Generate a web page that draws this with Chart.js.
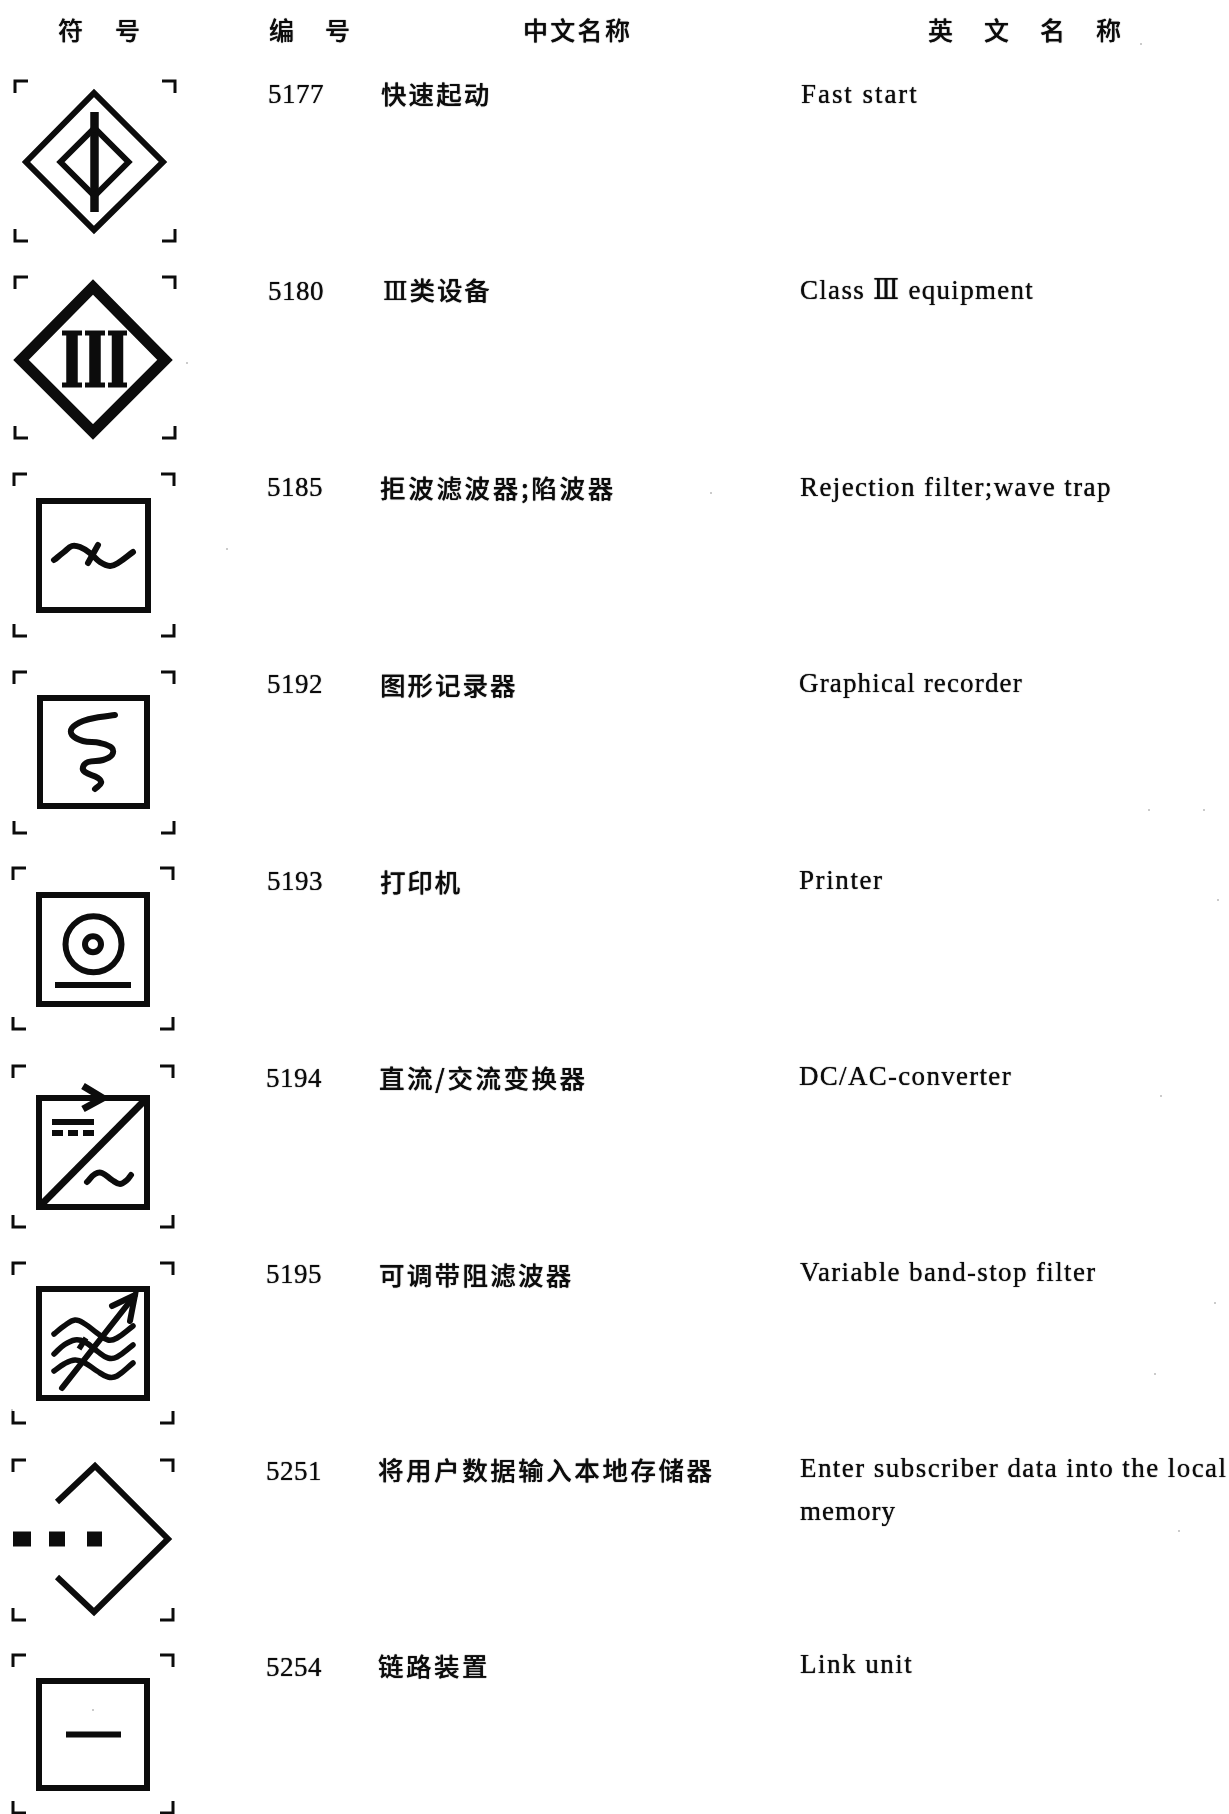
<!DOCTYPE html>
<html>
<head>
<meta charset="utf-8">
<title>符号表</title>
<script src="https://cdn.jsdelivr.net/npm/chart.js@4"></script>
<style>
  html, body { margin: 0; padding: 0; background: #fff; }
  canvas { display: block; }
</style>
</head>
<body>
<canvas id="chartSymbols" width="1229" height="1814"></canvas>
<script>
// table text
const headerLabels = ["符号", "编号", "中文名称", "英文名称"];
const codes = ["5177", "5180", "5185", "5192", "5193", "5194", "5195", "5251", "5254"];
const namesCn = ["快速起动", "Ⅲ类设备", "拒波滤波器;陷波器", "图形记录器", "打印机", "直流/交流变换器", "可调带阻滤波器", "将用户数据输入本地存储器", "链路装置"];
const namesEn = ["Fast start", "Class Ⅲ equipment", "Rejection filter;wave trap", "Graphical recorder", "Printer", "DC/AC-converter", "Variable band-stop filter", "Enter subscriber data into the local", "Link unit"];
const namesEnExtra = ["memory"];

// where the text sits on the page scales
const headerX = [58, 269, 523, 928];
const headerY = [30, 30, 30, 30];
const headerGap = [57, 56, 27.3, 56];
const codeX = [268, 268, 267, 267, 267, 266, 266, 266, 266];
const codeY = [103, 300, 496, 693, 890, 1087, 1283, 1480, 1676];
const cnX = [381, 383, 380, 380, 380, 379, 379, 378, 378];
const cnY = [94, 293, 488, 685, 882, 1078, 1275, 1470, 1666];
const cnGap = [2.1, 1.9, 2.7, 2.0, 1.7, 2.5, 2.3, 2.55, 2.5];
const enX = [801, 800, 800, 799, 799, 799, 800, 800, 800];
const enY = [103, 299, 496, 692, 889, 1085, 1281, 1477, 1673];
const enGap = [1.95, 1.3, 1.38, 1.15, 1.6, 1.3, 1.37, 1.44, 1.5];
const enExtraY = [1520];
const enExtraGap = [1.0];

// crop marks round each symbol
const cornerTop = [81, 277, 474, 672, 868, 1066, 1263, 1460, 1655];
const cornerBottom = [241, 438, 636, 833, 1029, 1227, 1423, 1620, 1813];
const cornerLeft = [15, 15, 14, 14, 13, 13, 13, 13, 13];
const cornerRight = [175, 175, 174, 174, 173, 173, 173, 173, 173];

// symbol outlines, page units
const sym1Outer = [[94, 93], [163, 162], [94, 230], [26, 162]];
const sym1Inner = [[94.5, 128], [128.5, 162], [94.5, 196], [60.5, 162]];
const sym1Bar = [[94.5, 112], [94.5, 212]];
const sym2Outer = [[93, 287], [165, 360], [93, 432], [21, 360]];
const sym2Stems = [[[72, 331], [72, 387]], [[95, 331], [95, 387]], [[117.5, 331], [117.5, 387]]];
const sym2Serifs = [[[62, 333], [82, 333]], [[85, 333], [105, 333]], [[108, 333], [127, 333]], [[62, 385], [82, 385]], [[85, 385], [105, 385]], [[108, 385], [127, 385]]];
const sym3Box = [[39, 501], [148, 501], [148, 610], [39, 610]];
const sym3Wave = [[54, 560], [64, 552], [72, 546], [80, 547], [90, 553], [100, 562], [110, 566], [118, 563], [133, 552]];
const sym3Tick = [[98, 545], [88, 563]];
const sym4Box = [[40, 698], [147, 698], [147, 806], [40, 806]];
const sym4Wave = [[115, 715], [100, 717], [83, 721], [72, 728], [72, 735], [83, 741], [100, 743], [112, 748], [112, 755], [103, 760], [88, 762], [83, 767], [85, 772], [98, 778], [101, 783], [95, 789]];
const sym5Box = [[39, 895], [147, 895], [147, 1004], [39, 1004]];
const sym5Rings = [{ x: 93.5, y: 944.3 }, { x: 93, y: 944.3 }];
const sym5Bar = [[55, 985], [131, 985]];
const sym6Box = [[39, 1098], [147, 1098], [147, 1207], [39, 1207]];
const sym6Diag = [[147, 1098], [39, 1207]];
const sym6Arrow = [[83, 1086], [103, 1098], [83, 1109]];
const sym6Solid = [[52, 1122], [94, 1122]];
const sym6Dashes = [[[52, 1133], [63, 1133]], [[68, 1133], [78, 1133]], [[83, 1133], [94, 1133]]];
const sym6Wave = [[87, 1182], [95, 1174], [102, 1173], [112, 1180], [120, 1184], [127, 1180], [131, 1175]];
const sym7Box = [[39, 1289], [147, 1289], [147, 1398], [39, 1398]];
const sym7Shaft = [[62, 1388], [135, 1295]];
const sym7Head = [[112, 1306], [135, 1295], [130, 1321]];
const sym7WaveA = [[54, 1334], [64, 1326], [75, 1320], [85, 1324], [97, 1333], [108, 1340], [117, 1338], [133, 1326]];
const sym7WaveB = [[54, 1354], [64, 1345], [75, 1340], [85, 1342], [97, 1351], [108, 1358], [117, 1357], [133, 1345]];
const sym7WaveC = [[54, 1371], [64, 1364], [75, 1360], [85, 1363], [97, 1371], [108, 1377], [117, 1376], [133, 1363]];
const sym7Tick = [[86, 1338], [79, 1349]];
const sym8Open = [[57, 1502], [95, 1466], [168, 1539], [94, 1612], [57, 1577]];
const sym8Dots = [[[13, 1539], [31, 1539]], [[49, 1539], [65, 1539]], [[87, 1539], [102, 1539]]];
const sym9Box = [[39, 1681], [147, 1681], [147, 1788], [39, 1788]];
const sym9Dash = [[66, 1734.5], [121, 1734.5]];

// scanner dirt
const specks = [[187, 363], [227, 549], [711, 493], [1141, 44], [1204, 810], [1149, 810], [1218, 900], [1161, 1096], [1215, 1303], [1155, 1374], [1179, 1531], [93, 1710], [12, 1410]];

const inkColor = "#0c0c0c";
const datasets = [];

function addLine(pts, width, opts) {
  datasets.push(Object.assign({
    data: pts.map(function (p) { return { x: p[0], y: p[1] }; }),
    showLine: true,
    pointRadius: 0,
    borderColor: inkColor,
    backgroundColor: inkColor,
    borderWidth: width,
    borderCapStyle: "butt",
    borderJoinStyle: "miter",
    tension: 0,
    clip: false
  }, opts || {}));
}
// go round past the start again so the first corner gets its miter too
function addClosed(pts, width) {
  addLine(pts.concat([pts[0], pts[1]]), width);
}
function addWave(pts, width) {
  addLine(pts, width, { tension: 0.4, borderCapStyle: "round", borderJoinStyle: "round" });
}

// crop marks
cornerTop.forEach(function (top, i) {
  const bottom = cornerBottom[i], l = cornerLeft[i], r = cornerRight[i];
  addLine([[l, top + 12], [l, top], [l + 13, top]], 3);
  addLine([[r - 13, top], [r, top], [r, top + 12]], 3);
  addLine([[l, bottom - 12], [l, bottom], [l + 13, bottom]], 3);
  addLine([[r - 13, bottom], [r, bottom], [r, bottom - 12]], 3);
});

addClosed(sym1Outer, 6);
addClosed(sym1Inner, 6);
addLine(sym1Bar, 8.5);

addClosed(sym2Outer, 11);
sym2Stems.forEach(function (s) { addLine(s, 11.5); });
sym2Serifs.forEach(function (s) { addLine(s, 5); });

addClosed(sym3Box, 6);
addWave(sym3Wave, 6);
addLine(sym3Tick, 6, { borderCapStyle: "round" });

addClosed(sym4Box, 6);
addWave(sym4Wave, 6);

addClosed(sym5Box, 6);
addLine(sym5Bar, 6);
datasets.push({
  data: sym5Rings,
  showLine: false,
  pointRadius: [28, 8],
  pointBorderWidth: [6, 6],
  pointBorderColor: inkColor,
  pointBackgroundColor: "rgba(0,0,0,0)",
  clip: false
});

addClosed(sym6Box, 6);
addLine(sym6Diag, 7);
addLine(sym6Arrow, 7);
addLine(sym6Solid, 6);
sym6Dashes.forEach(function (s) { addLine(s, 6); });
addWave(sym6Wave, 6);

addClosed(sym7Box, 6);
addLine(sym7Shaft, 6, { borderCapStyle: "round" });
addLine(sym7Head, 6, { borderCapStyle: "round" });
addWave(sym7WaveA, 5.5);
addWave(sym7WaveB, 5.5);
addWave(sym7WaveC, 5.5);
addLine(sym7Tick, 5.5);

addLine(sym8Open, 6);
sym8Dots.forEach(function (s) { addLine(s, 15); });

addClosed(sym9Box, 6);
addLine(sym9Dash, 6);

datasets.push({
  data: specks.map(function (p) { return { x: p[0], y: p[1] }; }),
  showLine: false,
  pointRadius: 0.8,
  pointBorderWidth: 0,
  pointBackgroundColor: "#888888",
  clip: false
});

// the table text goes on through the same scales as the symbols
const tableText = {
  id: "tableText",
  afterDatasetsDraw: function (chart) {
    const c = chart.ctx, sx = chart.scales.x, sy = chart.scales.y;
    c.save();
    c.fillStyle = inkColor;
    c.textAlign = "left";
    // the scan ink spreads a little
    c.shadowColor = inkColor;
    c.shadowBlur = 1;

    c.textBaseline = "middle";
    c.font = '500 25px "Noto Sans CJK SC"';
    headerLabels.forEach(function (label, i) {
      c.letterSpacing = (headerGap[i] - 25) + "px";
      c.fillText(label, sx.getPixelForValue(headerX[i]), sy.getPixelForValue(headerY[i]));
    });

    namesCn.forEach(function (label, i) {
      c.letterSpacing = cnGap[i] + "px";
      // only the row with the Roman numeral wants the serif face first
      c.font = label.indexOf("Ⅲ") === 0
        ? '500 25.5px "DejaVu Serif", "Noto Sans CJK SC"'
        : '500 25.5px "Noto Sans CJK SC"';
      c.fillText(label, sx.getPixelForValue(cnX[i]), sy.getPixelForValue(cnY[i]));
    });

    c.textBaseline = "alphabetic";
    c.letterSpacing = "0.5px";
    c.font = '27px "Liberation Serif"';
    codes.forEach(function (label, i) {
      c.fillText(label, sx.getPixelForValue(codeX[i]), sy.getPixelForValue(codeY[i]));
    });

    c.font = '27px "Liberation Serif", "DejaVu Serif", "Noto Sans CJK SC"';
    namesEn.forEach(function (label, i) {
      c.letterSpacing = enGap[i] + "px";
      c.fillText(label, sx.getPixelForValue(enX[i]), sy.getPixelForValue(enY[i]));
    });
    c.letterSpacing = enExtraGap[0] + "px";
    c.fillText(namesEnExtra[0], sx.getPixelForValue(enX[7]), sy.getPixelForValue(enExtraY[0]));
    c.restore();
  }
};

const ctx = document.getElementById("chartSymbols").getContext("2d");
const myChart = new Chart(ctx, {
  type: "scatter",
  data: { datasets: datasets },
  plugins: [tableText],
  options: {
    responsive: false,
    animation: false,
    layout: { padding: 0, autoPadding: false },
    plugins: {
      legend: { display: false },
      tooltip: { enabled: false }
    },
    scales: {
      x: { type: "linear", min: 0, max: 1229, display: false },
      y: { type: "linear", min: 0, max: 1814, reverse: true, display: false }
    }
  }
});
</script>
</body>
</html>
